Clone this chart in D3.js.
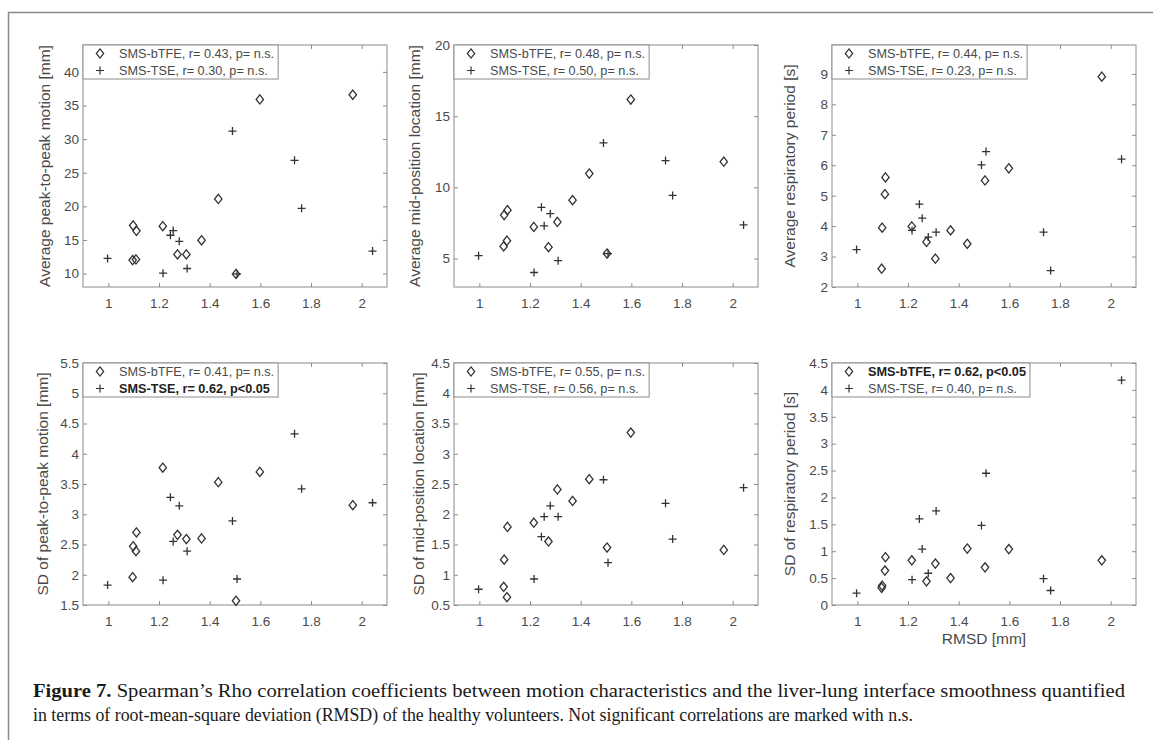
<!DOCTYPE html>
<html>
<head>
<meta charset="utf-8">
<script src="https://cdn.jsdelivr.net/npm/d3@7"></script>
<style>
  body { margin: 0; background: #fff; }
  svg text { font-family: "Liberation Sans", Arial, sans-serif; }
</style>
</head>
<body>
<svg id="chart" width="1153" height="740"></svg>
<script>
// RMSD of each scan (x values, shared by all panels)
const rmsdBTFE = [1.096, 1.098, 1.109, 1.111, 1.215, 1.273, 1.308, 1.368, 1.434, 1.504, 1.598, 1.965];
const rmsdTSE = [0.997, 1.216, 1.245, 1.256, 1.280, 1.311, 1.490, 1.508, 1.735, 1.763, 2.043];

// motion characteristics, one array per panel and sequence
const avgP2P_bTFE = [12.0, 17.15, 12.1, 16.35, 17.05, 12.85, 12.85, 14.95, 21.1, 9.95, 35.9, 36.6];
const avgP2P_TSE = [12.25, 10.05, 15.7, 16.4, 14.8, 10.75, 31.2, 9.95, 26.85, 19.7, 13.35];
const avgMid_bTFE = [5.85, 8.05, 6.25, 8.4, 7.22, 5.8, 7.57, 9.1, 10.97, 5.35, 16.17, 11.8];
const avgMid_TSE = [5.2, 4.02, 8.6, 7.3, 8.15, 4.85, 13.12, 5.35, 11.88, 9.43, 7.36];
const avgResp_bTFE = [2.6, 3.95, 5.05, 5.6, 3.99, 3.48, 2.93, 3.86, 3.42, 5.5, 5.9, 8.91];
const avgResp_TSE = [3.23, 3.86, 4.72, 4.26, 3.64, 3.8, 6.01, 6.45, 3.8, 2.54, 6.2];
const sdP2P_bTFE = [1.96, 2.47, 2.39, 2.7, 3.77, 2.66, 2.59, 2.6, 3.53, 1.57, 3.7, 3.15];
const sdP2P_TSE = [1.83, 1.91, 3.28, 2.55, 3.14, 2.39, 2.89, 1.93, 4.33, 3.42, 3.19];
const sdMid_bTFE = [0.8, 1.25, 0.63, 1.79, 1.86, 1.55, 2.41, 2.22, 2.58, 1.45, 3.35, 1.41];
const sdMid_TSE = [0.76, 0.93, 1.63, 1.96, 2.14, 1.96, 2.57, 1.2, 2.18, 1.59, 2.44];
const sdResp_bTFE = [0.32, 0.36, 0.64, 0.89, 0.83, 0.44, 0.77, 0.5, 1.05, 0.7, 1.04, 0.83];
const sdResp_TSE = [0.22, 0.47, 1.6, 1.04, 0.59, 1.75, 1.48, 2.45, 0.49, 0.27, 4.18];

const yLabels = [
  "Average peak-to-peak motion [mm]", "Average mid-position location [mm]", "Average respiratory period [s]",
  "SD of peak-to-peak motion [mm]", "SD of mid-position location [mm]", "SD of respiratory period [s]"
];
const yDomains = [[8, 44], [3, 20], [2, 9.95], [1.5, 5.5], [0.5, 4.5], [0, 4.5]];
const yTicks = [
  [10, 15, 20, 25, 30, 35, 40], [5, 10, 15, 20], [2, 3, 4, 5, 6, 7, 8, 9],
  [1.5, 2, 2.5, 3, 3.5, 4, 4.5, 5, 5.5], [0.5, 1, 1.5, 2, 2.5, 3, 3.5, 4, 4.5], [0, 0.5, 1, 1.5, 2, 2.5, 3, 3.5, 4, 4.5]
];
const xDomain = [0.9, 2.1];
const xTicks = [1, 1.2, 1.4, 1.6, 1.8, 2];
const legendBTFE = [
  "SMS-bTFE, r= 0.43, p= n.s.", "SMS-bTFE, r= 0.48, p= n.s.", "SMS-bTFE, r= 0.44, p= n.s.",
  "SMS-bTFE, r= 0.41, p= n.s.", "SMS-bTFE, r= 0.55, p= n.s.", "SMS-bTFE, r= 0.62, p<0.05"
];
const legendTSE = [
  "SMS-TSE, r= 0.30, p= n.s.", "SMS-TSE, r= 0.50, p= n.s.", "SMS-TSE, r= 0.23, p= n.s.",
  "SMS-TSE, r= 0.62, p<0.05", "SMS-TSE, r= 0.56, p= n.s.", "SMS-TSE, r= 0.40, p= n.s."
];
const bTFESeries = [avgP2P_bTFE, avgMid_bTFE, avgResp_bTFE, sdP2P_bTFE, sdMid_bTFE, sdResp_bTFE];
const tseSeries = [avgP2P_TSE, avgMid_TSE, avgResp_TSE, sdP2P_TSE, sdMid_TSE, sdResp_TSE];

// layout
const colX = [83, 454, 832];
const rowY = [45, 363];
const plotW = 304, plotH = 242;
const yLabelX = [45, 415, 790, 43, 419, 790];
const textColor = "#4a4a4a";
const axisColor = "#8c8c8c";
const markColor = "#333";

const svg = d3.select("#chart");
svg.append("rect").attr("width", 1153).attr("height", 740).attr("fill", "#fff");

// page frame (only top and left edges visible)
svg.append("path")
  .attr("d", "M8.5,740 V12.5 H1153")
  .attr("fill", "none")
  .attr("stroke", "#8a8a8a")
  .attr("stroke-width", 1.5);

const diamond = "M0,-4.6 L3.7,0 L0,4.6 L-3.7,0 Z";
const cross = "M-4,0 H4 M0,-4 V4";

yLabels.forEach((label, i) => {
  const left = colX[i % 3], top = rowY[Math.floor(i / 3)];
  const g = svg.append("g").attr("transform", `translate(${left},${top})`);

  const x = d3.scaleLinear().domain(xDomain).range([0, plotW]);
  const y = d3.scaleLinear().domain(yDomains[i]).range([plotH, 0]);

  const styleAxis = (sel) => {
    sel.select(".domain").remove();
    sel.selectAll(".tick line").attr("stroke", axisColor);
    sel.selectAll(".tick text").attr("fill", textColor).style("font-size", "13.5px");
  };

  g.append("g").attr("transform", `translate(0,${plotH})`)
    .call(d3.axisBottom(x).tickValues(xTicks).tickFormat((d) => d).tickSize(-4).tickPadding(11))
    .call(styleAxis);
  g.append("g")
    .call(d3.axisTop(x).tickValues(xTicks).tickFormat("").tickSize(-4))
    .call(styleAxis);
  g.append("g")
    .call(d3.axisLeft(y).tickValues(yTicks[i]).tickFormat((d) => d).tickSize(-4).tickPadding(4))
    .call(styleAxis);
  g.append("g").attr("transform", `translate(${plotW},0)`)
    .call(d3.axisRight(y).tickValues(yTicks[i]).tickFormat("").tickSize(-4))
    .call(styleAxis);

  g.append("rect")
    .attr("width", plotW).attr("height", plotH)
    .attr("fill", "none").attr("stroke", axisColor).attr("stroke-width", 1);

  g.append("text")
    .attr("transform", `translate(${yLabelX[i] - left},${plotH / 2}) rotate(-90)`)
    .attr("text-anchor", "middle")
    .attr("dy", "0.35em")
    .attr("fill", textColor)
    .style("font-size", "15.5px")
    .text(label);

  g.selectAll(".btfe")
    .data(rmsdBTFE.map((r, k) => [r, bTFESeries[i][k]]))
    .join("path")
    .attr("class", "btfe")
    .attr("transform", (d) => `translate(${x(d[0])},${y(d[1])})`)
    .attr("d", diamond)
    .attr("fill", "none").attr("stroke", markColor).attr("stroke-width", 1.3);

  g.selectAll(".tse")
    .data(rmsdTSE.map((r, k) => [r, tseSeries[i][k]]))
    .join("path")
    .attr("class", "tse")
    .attr("transform", (d) => `translate(${x(d[0])},${y(d[1])})`)
    .attr("d", cross)
    .attr("fill", "none").attr("stroke", markColor).attr("stroke-width", 1.3);

  // legend
  const lg = g.append("g");
  const box = lg.append("rect").attr("fill", "#fff").attr("stroke", axisColor).attr("stroke-width", 1);
  const entries = [
    { text: legendBTFE[i], mark: diamond },
    { text: legendTSE[i], mark: cross }
  ];
  let maxW = 0;
  entries.forEach((e, k) => {
    const cy = 8.5 + k * 17;
    lg.append("path")
      .attr("transform", `translate(17,${cy})`)
      .attr("d", e.mark)
      .attr("fill", "none").attr("stroke", markColor).attr("stroke-width", 1.2);
    const t = lg.append("text")
      .attr("x", 36).attr("y", cy).attr("dy", "0.35em")
      .attr("fill", e.text.includes("<") ? "#222" : textColor)
      .style("font-size", "12.7px")
      .style("font-weight", e.text.includes("<") ? "bold" : "normal")
      .text(e.text);
    maxW = Math.max(maxW, t.node().getComputedTextLength());
  });
  box.attr("width", 36 + maxW + 4).attr("height", 34);
});

// x label under last panel
svg.append("text")
  .attr("x", colX[2] + plotW / 2).attr("y", rowY[1] + plotH + 39)
  .attr("text-anchor", "middle")
  .attr("fill", textColor)
  .style("font-size", "15.5px")
  .text("RMSD [mm]");

// caption
const cap = svg.append("g");
const line1 = cap.append("text").attr("x", 33).attr("y", 697).attr("fill", "#1a1a1a")
  .style("font-size", "18px").style("font-family", "'Liberation Serif', serif")
  .attr("textLength", 1092).attr("lengthAdjust", "spacingAndGlyphs");
line1.append("tspan").style("font-weight", "bold").text("Figure 7.");
line1.append("tspan").text(" Spearman\u2019s Rho correlation coefficients between motion characteristics and the liver-lung interface smoothness quantified");
cap.append("text").attr("x", 33).attr("y", 721).attr("fill", "#1a1a1a")
  .style("font-size", "18px").style("font-family", "'Liberation Serif', serif")
  .attr("textLength", 880).attr("lengthAdjust", "spacingAndGlyphs")
  .text("in terms of root-mean-square deviation (RMSD) of the healthy volunteers. Not significant correlations are marked with n.s.");
</script>
</body>
</html>
